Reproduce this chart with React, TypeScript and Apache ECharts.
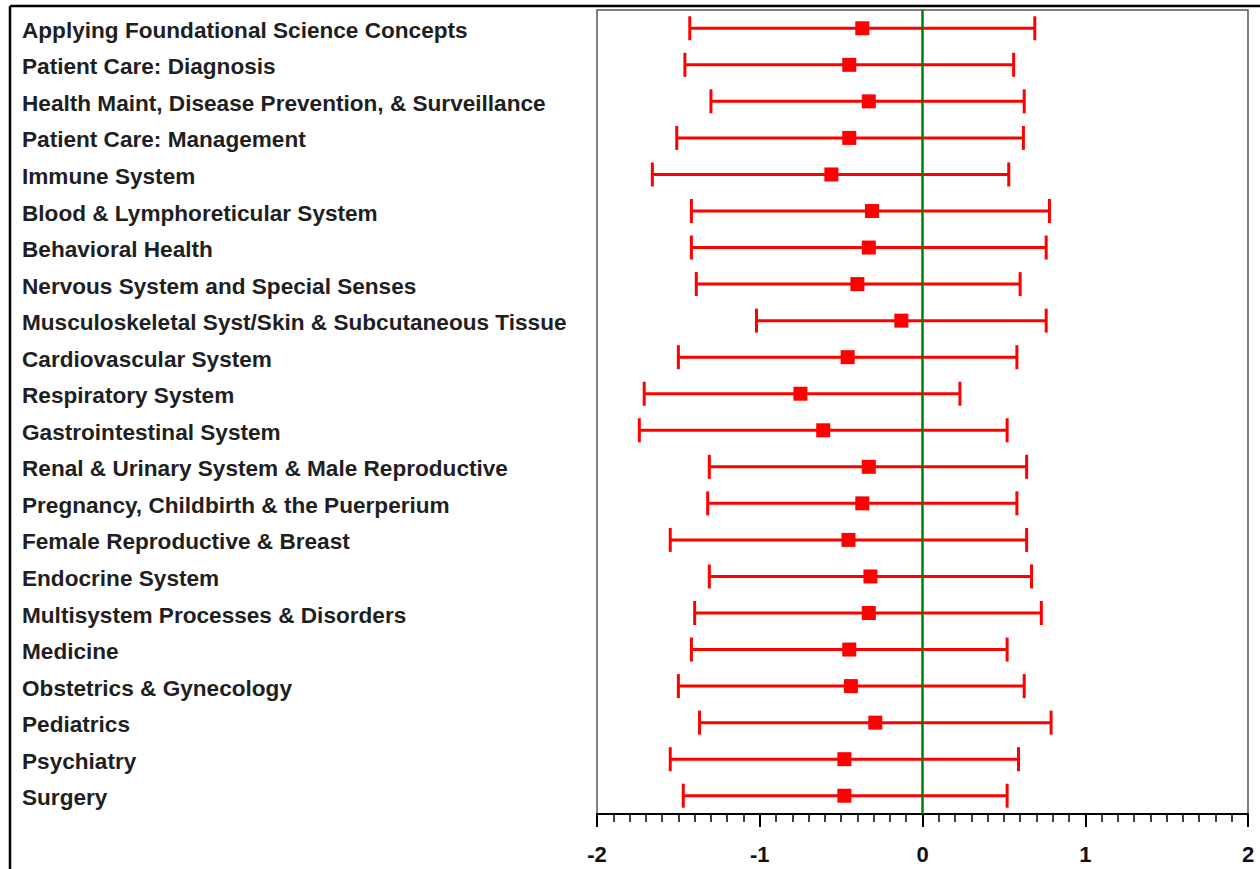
import React, { useEffect, useRef } from "react";
import * as echarts from "echarts";

const categories = [
  "Applying Foundational Science Concepts",
  "Patient Care: Diagnosis",
  "Health Maint, Disease Prevention, & Surveillance",
  "Patient Care: Management",
  "Immune System",
  "Blood & Lymphoreticular System",
  "Behavioral Health",
  "Nervous System and Special Senses",
  "Musculoskeletal Syst/Skin & Subcutaneous Tissue",
  "Cardiovascular System",
  "Respiratory System",
  "Gastrointestinal System",
  "Renal & Urinary System & Male Reproductive",
  "Pregnancy, Childbirth & the Puerperium",
  "Female Reproductive & Breast",
  "Endocrine System",
  "Multisystem Processes & Disorders",
  "Medicine",
  "Obstetrics & Gynecology",
  "Pediatrics",
  "Psychiatry",
  "Surgery",
];

const means = [
  -0.37, -0.45, -0.33, -0.45, -0.56, -0.31, -0.33, -0.4, -0.13, -0.46, -0.75,
  -0.61, -0.33, -0.37, -0.455, -0.32, -0.33, -0.45, -0.44, -0.29, -0.48, -0.48,
];

const lower = [
  -1.43, -1.46, -1.3, -1.51, -1.66, -1.42, -1.42, -1.39, -1.02, -1.5, -1.71,
  -1.74, -1.31, -1.32, -1.55, -1.31, -1.4, -1.42, -1.5, -1.37, -1.55, -1.47,
];

const upper = [
  0.69, 0.56, 0.625, 0.62, 0.53, 0.78, 0.76, 0.6, 0.76, 0.58, 0.23, 0.52, 0.64,
  0.58, 0.64, 0.67, 0.73, 0.52, 0.625, 0.79, 0.59, 0.52,
];

const xTicks = { min: -2, max: 2, interval: 1 };

export default function App() {
  const ref = useRef<HTMLDivElement>(null);

  useEffect(() => {
    if (!ref.current) return;
    const chart = echarts.init(ref.current, undefined, { renderer: "svg" });
    const red = "#ff0000";
    const option: any = {
      animation: false,
      backgroundColor: "#ffffff",
      grid: {
        left: 597,
        right: 12,
        top: 10,
        bottom: 55,
        show: true,
        borderColor: "#555555",
        borderWidth: 1.5,
        backgroundColor: "transparent",
      },
      xAxis: {
        type: "value",
        min: xTicks.min,
        max: xTicks.max,
        interval: xTicks.interval,
        axisLine: { show: true, onZero: false, lineStyle: { color: "#000", width: 2 } },
        axisTick: { show: true, length: 13, lineStyle: { color: "#000", width: 2 } },
        minorTick: { show: true, splitNumber: 10, length: 8, lineStyle: { color: "#000", width: 1.5 } },
        splitLine: { show: false },
        axisLabel: {
          color: "#111",
          fontFamily: "Liberation Sans, Arial, sans-serif",
          fontWeight: "bold",
          fontSize: 22,
          margin: 29,
        },
      },
      yAxis: {
        type: "category",
        data: categories,
        inverse: true,
        boundaryGap: true,
        axisLine: { show: false },
        axisTick: { show: false },
        splitLine: { show: false },
        axisLabel: {
          align: "left",
          verticalAlign: "top",
          lineHeight: 4,
          margin: 575,
          color: "#1f1f1f",
          fontFamily: "Liberation Sans, Arial, sans-serif",
          fontWeight: "bold",
          fontSize: 22.6,
        },
      },
      graphic: [
        { type: "line", shape: { x1: 10, y1: 6, x2: 1260, y2: 6 }, style: { stroke: "#000", lineWidth: 2.5 } },
        { type: "line", shape: { x1: 10, y1: 6, x2: 10, y2: 869 }, style: { stroke: "#000", lineWidth: 2.5 } },
      ],
      series: [
        {
          type: "custom",
          z: 2,
          data: categories.map((_, i) => [lower[i], upper[i], i]),
          renderItem: (params: any, api: any) => {
            const lo = api.coord([api.value(0), api.value(2)]);
            const hi = api.coord([api.value(1), api.value(2)]);
            const capH = 12;
            const style = { stroke: red, lineWidth: 3 };
            return {
              type: "group",
              children: [
                { type: "line", shape: { x1: lo[0], y1: lo[1], x2: hi[0], y2: hi[1] }, style },
                { type: "line", shape: { x1: lo[0], y1: lo[1] - capH, x2: lo[0], y2: lo[1] + capH }, style },
                { type: "line", shape: { x1: hi[0], y1: hi[1] - capH, x2: hi[0], y2: hi[1] + capH }, style },
              ],
            };
          },
        },
        {
          type: "scatter",
          z: 3,
          symbol: "rect",
          symbolSize: 14,
          itemStyle: { color: red, opacity: 1 },
          data: categories.map((_, i) => [means[i], i]),
        },
        {
          type: "line",
          z: 5,
          data: [],
          markLine: {
            silent: true,
            symbol: ["none", "none"],
            label: { show: false },
            lineStyle: { color: "#008000", width: 2.5, type: "solid" },
            data: [{ xAxis: 0 }],
          },
        },
      ],
    };
    chart.setOption(option);
    return () => chart.dispose();
  }, []);

  return (
    <div
      ref={ref}
      style={{ position: "fixed", left: 0, top: 0, width: 1260, height: 869 }}
    />
  );
}
